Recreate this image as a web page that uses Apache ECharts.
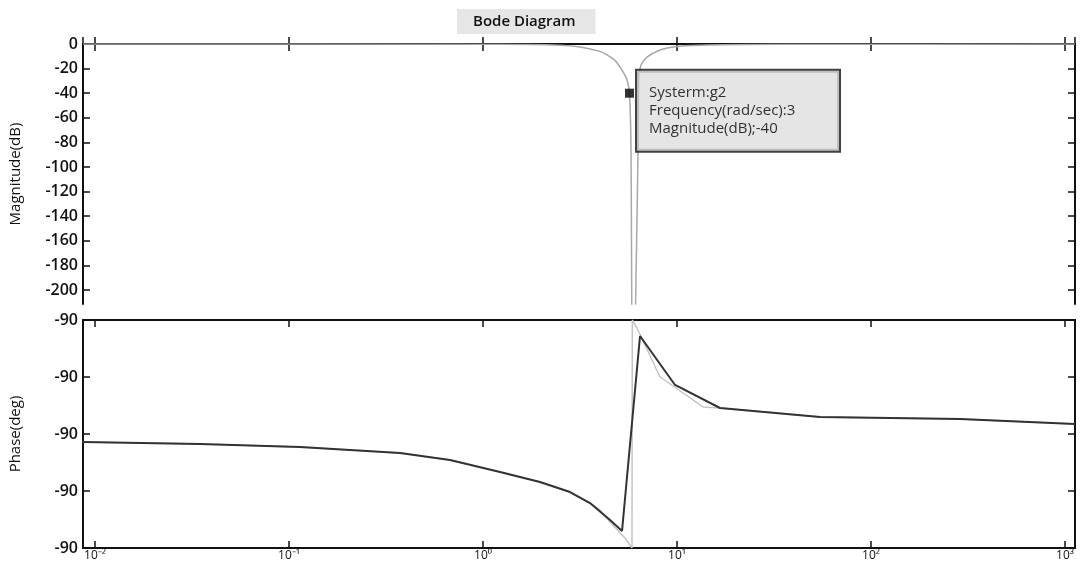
<!DOCTYPE html>
<html>
<head>
<meta charset="utf-8">
<script src="https://cdn.jsdelivr.net/npm/echarts@6/dist/echarts.min.js"></script>
<style>
  html, body { margin: 0; padding: 0; background: #fff; }
  #bode { width: 1080px; height: 565px; }
</style>
</head>
<body>
<div id="bode"></div>
<script>
// magnitude curve (grey), frequency in rad/sec
var magFreq = [0.00867, 1.224, 2.494, 3.162, 4.01, 4.358, 4.8, 5.085, 5.35, 5.525, 5.691, 5.793, 5.828, 5.896,
               6.002, 6.182, 6.295, 6.369, 6.522, 7.005, 8.173, 9.537, 13.14, 33.96, 1126];
var magDb   = [0, -0.2, -1, -2.4, -6, -8.9, -13.5, -18.7, -24.5, -29.3, -40, -86, -167, -250,
               -250, -167, -86, -30, -17, -10.6, -4.9, -2.4, -1, -0.3, 0];

// phase, dark curve
var phaseFreq = [0.00676, 0.00867, 0.03477, 0.1139, 0.2063, 0.3734, 0.676, 1.224, 1.967, 2.809,
                 3.56, 4.515, 5.207, 6.446, 9.766, 16.66, 54.59, 287.6, 1126];
var phaseDark = [-90.014, -90.014, -90.0175, -90.0228, -90.0281, -90.0333, -90.0456, -90.0667, -90.0842, -90.1018,
                 -90.1211, -90.1509, -90.1702, -89.8281, -89.914, -89.9544, -89.9702, -89.9737, -89.9825];

// phase, light curve
var lightFreq  = [0.00867, 0.03477, 0.1139, 0.2063, 0.3734, 0.676, 1.224, 1.967, 2.809, 3.56, 4.01, 4.515,
                  5.395, 5.861, 5.883, 6.219, 8.173, 9.537, 13.61, 16.66, 54.59, 287.6, 1126];
var phaseLight = [-90.014, -90.0175, -90.0228, -90.0281, -90.0333, -90.0456, -90.0667, -90.0842, -90.1018, -90.1211, -90.1333, -90.1544,
                  -90.1825, -90.2, -89.8, -89.814, -89.9, -89.9158, -89.9526, -89.9544, -89.9702, -89.9737, -89.9825];

// magnitude tick values
var magTicks = [0, -20, -40, -60, -80, -100, -120, -140, -160, -180, -200];

// data tip
var tipFreq = 5.691;
var tipDb = -40;
var tipLines = ['Systerm:g2', 'Frequency(rad/sec):3', 'Magnitude(dB);-40'];

var sup = { '-': '⁻', '0': '⁰', '1': '¹', '2': '²', '3': '³', '4': '⁴', '5': '⁵' };
function decade(v) {
    var e = String(Math.round(Math.log10(v)));
    return '10' + e.split('').map(function (c) { return sup[c]; }).join('');
}

var font = 'Open Sans';
var frameLine = { show: true, lineStyle: { color: '#111', width: 2 } };
var tickIn = { show: true, inside: true, length: 7, lineStyle: { color: '#111', width: 1.5 } };
var magTick = { show: true, inside: true, length: 7, customValues: magTicks, lineStyle: { color: '#111', width: 1.5 } };

function xAx(grid, pos, labels) {
    return {
        type: 'log', logBase: 10, gridIndex: grid, position: pos,
        min: 0.00867, max: 1126,
        axisLine: frameLine, axisTick: tickIn, splitLine: { show: false },
        axisLabel: {
            show: labels, formatter: decade, margin: 2,
            showMinLabel: false, showMaxLabel: false,
            color: '#111', fontSize: 12, fontFamily: font
        }
    };
}

var bodeChart = echarts.init(document.getElementById('bode'));

var option = {
    backgroundColor: '#fff',
    animation: false,
    title: {
        text: 'Bode Diagram',
        left: 457, top: 9,
        padding: [5, 20, 5, 16],
        backgroundColor: '#e6e6e6',
        textStyle: { color: '#111', fontSize: 15, fontWeight: 600, fontFamily: font }
    },
    grid: [
        { left: 83, right: 5, top: 44, height: 260 },
        { left: 83, right: 5, top: 320, height: 228 }
    ],
    xAxis: [
        xAx(0, 'bottom', false),
        xAx(0, 'top', false),
        xAx(1, 'bottom', true),
        xAx(1, 'top', false)
    ],
    yAxis: [
        {
            type: 'value', gridIndex: 0, position: 'left',
            min: -211.4, max: 0,
            name: 'Magnitude(dB)', nameLocation: 'middle', nameGap: 60,
            nameTextStyle: { color: '#111', fontSize: 15, fontFamily: font },
            axisLine: frameLine, axisTick: magTick, splitLine: { show: false },
            axisLabel: { customValues: magTicks, margin: 5, color: '#111', fontSize: 16, fontWeight: 600, fontFamily: font }
        },
        {
            type: 'value', gridIndex: 0, position: 'right',
            min: -211.4, max: 0,
            axisLine: frameLine, axisTick: magTick, splitLine: { show: false },
            axisLabel: { show: false }
        },
        {
            type: 'value', gridIndex: 1, position: 'left',
            min: -90.2, max: -89.8, interval: 0.1,
            name: 'Phase(deg)', nameLocation: 'middle', nameGap: 60,
            nameTextStyle: { color: '#111', fontSize: 15, fontFamily: font },
            axisLine: frameLine, axisTick: tickIn, splitLine: { show: false },
            axisLabel: {
                margin: 5, color: '#111', fontSize: 16, fontWeight: 600, fontFamily: font,
                formatter: function (v) { return String(Math.round(v)); }
            }
        },
        {
            type: 'value', gridIndex: 1, position: 'right',
            min: -90.2, max: -89.8, interval: 0.1,
            axisLine: frameLine, axisTick: tickIn, splitLine: { show: false },
            axisLabel: { show: false }
        }
    ],
    series: [
        {
            name: 'g2 magnitude', type: 'line', xAxisIndex: 0, yAxisIndex: 0,
            showSymbol: false, smooth: 0.3,
            lineStyle: { color: '#a8a8a8', width: 1.5 },
            data: magFreq.map(function (f, i) { return [f, magDb[i]]; })
        },
        {
            name: 'g2 phase light', type: 'line', xAxisIndex: 2, yAxisIndex: 2,
            showSymbol: false,
            lineStyle: { color: '#c4c4c4', width: 1.5 },
            data: lightFreq.map(function (f, i) { return [f, phaseLight[i]]; })
        },
        {
            name: 'g2 phase', type: 'line', xAxisIndex: 2, yAxisIndex: 2,
            showSymbol: false, clip: false,
            lineStyle: { color: '#333', width: 2 },
            data: phaseFreq.map(function (f, i) { return [f, phaseDark[i]]; })
        },
        {
            name: 'data tip', type: 'scatter', xAxisIndex: 0, yAxisIndex: 0,
            symbol: 'rect', symbolSize: 9, z: 5,
            itemStyle: { color: '#000' },
            label: {
                show: true,
                position: [12, -18],
                formatter: tipLines.join('\n'),
                color: '#000', fontSize: 15, fontFamily: font, lineHeight: 18,
                backgroundColor: '#dedede', borderColor: '#111', borderWidth: 2,
                width: 178, padding: [13, 12, 13, 12]
            },
            data: [[tipFreq, tipDb]]
        }
    ]
};

bodeChart.setOption(option);
window.addEventListener('resize', function () {
    bodeChart.resize();
});
</script>
</body>
</html>
